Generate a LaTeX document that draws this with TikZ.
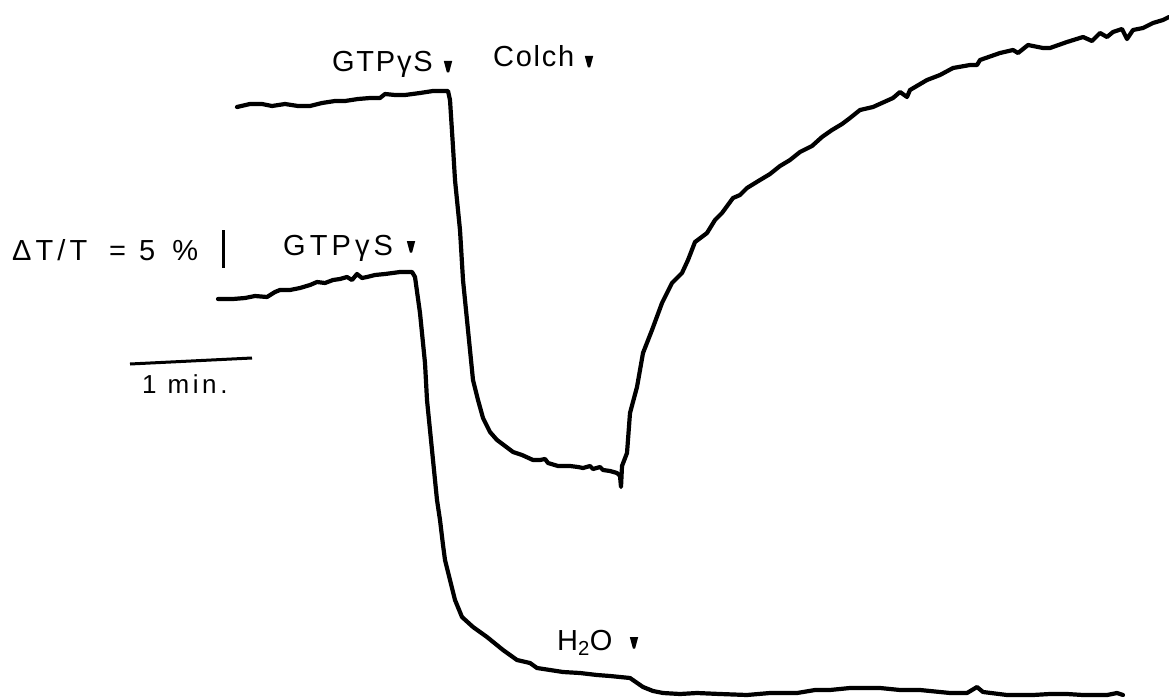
\documentclass[tikz,border=0pt]{standalone}
\usepackage{fontspec}
\newfontfamily\lettering[LetterSpace=6]{Liberation Sans}
\newfontfamily\letteringwide[LetterSpace=14]{Liberation Sans}
\begin{document}
\begin{tikzpicture}[x=1pt,y=-1pt,
  trace/.style={line width=4.2pt,line join=round,line cap=round},
  bar/.style={line width=3pt},
  lbl/.style={font=\fontsize{29}{32}\selectfont\lettering,inner sep=0pt,anchor=base west},
  lblwide/.style={font=\fontsize{29}{32}\selectfont\letteringwide,inner sep=0pt,anchor=base west},
  small/.style={font=\fontsize{26}{28}\selectfont\letteringwide,inner sep=0pt,anchor=base west},
  tick/.pic={\fill (-4.2,-6) -- (4.2,-6) -- (1.1,5.5) -- (-1.1,5.5) -- cycle;}]
\useasboundingbox (0,0) rectangle (1169,698);
% top trace (GTPgS then colchicine)
\draw[trace] plot coordinates {(237,107) (250,104) (262,104) (272,106) (285,104) (298,106) (310,106) (322,103) (335,101) (345,101) (358,99) (370,98) (380,98) (385,94) (395,95) (405,95) (420,93) (433,91) (448,91)
 (450,100) (453,147) (455,180) (460,230) (463,280) (468,330) (473,380) (478,400) (483,418) (490,432) (497,440) (505,446) (513,452) (522,455) (533,460) (540,460) (545,459) (548,463) (558,466) (570,466) (578,467) (583,468) (590,466) (593,469) (600,467) (603,470) (610,471) (617,473) (620,476) (621,487) (622,466) (627,453) (630,413) (637,387) (643,353) (652,330) (662,303) (672,283) (682,273) (688,260) (695,242) (707,233) (715,220) (722,213) (733,198) (740,195) (747,188) (760,180) (770,174) (780,166) (790,160) (800,152) (812,146) (822,137) (832,130) (842,124) (850,118) (860,110) (873,107) (893,98) (900,92) (907,97) (910,90) (927,80) (940,75) (953,68) (970,65) (977,65) (980,60) (1000,53) (1013,50) (1018,53) (1028,45) (1043,48) (1050,48) (1067,42) (1083,37) (1092,41) (1100,33) (1107,37) (1113,32) (1122,29) (1127,39) (1133,30) (1143,28) (1153,23) (1163,20) (1169,17)};
% bottom trace (GTPgS then water)
\draw[trace] plot coordinates {(218,299) (233,299) (245,298) (255,296) (267,297) (275,292) (280,290) (290,290) (300,288) (310,285) (317,282) (325,283) (333,280) (340,279) (347,277) (352,280) (357,274) (362,278) (367,277) (375,275) (385,274) (400,272) (412,272)
 (415,277) (420,313) (425,363) (427,400) (432,450) (437,500) (440,520) (443,545) (445,560) (450,580) (455,600) (462,617) (473,627) (487,637) (503,650) (517,660) (530,663) (537,668) (550,670) (563,672) (580,673) (597,675) (610,676) (630,678) (643,687) (653,691) (663,693) (680,694) (697,693) (720,694) (747,695) (770,693) (797,693) (815,690) (830,690) (850,688) (880,688) (900,690) (920,690) (950,693) (967,693) (977,687) (983,692) (1007,695) (1033,695) (1050,694) (1067,694) (1083,695) (1107,695) (1117,693) (1123,695)};
% scale bars
\coordinate (vt) at (223,230); \coordinate (vb) at (223,268);
\draw[bar] (vt) -- (vb);
\coordinate (hl) at (130,364); \coordinate (hr) at (252,358);
\draw[bar] (hl) -- (hr);
% labels
\node[lbl] (gtp1) at (332,72) {GTPγS};
\node[lbl] (colch) at (493,67) {Colch};
\node[lblwide] (gtp2) at (283,255) {GTPγS};
\node[lblwide] (dt) at (12,260) {ΔT/T\hspace{22pt}=\hspace{13pt}5\hspace{17pt}\%};
\node[lbl] (h2o) at (557,650) {H\textsubscript{2}O};
\node[small] (min) at (142,393) {1 min.};
% addition markers
\pic at (448,67) {tick};
\pic at (589,62) {tick};
\pic at (411,247) {tick};
\pic at (634,643) {tick};
\end{tikzpicture}
\end{document}
